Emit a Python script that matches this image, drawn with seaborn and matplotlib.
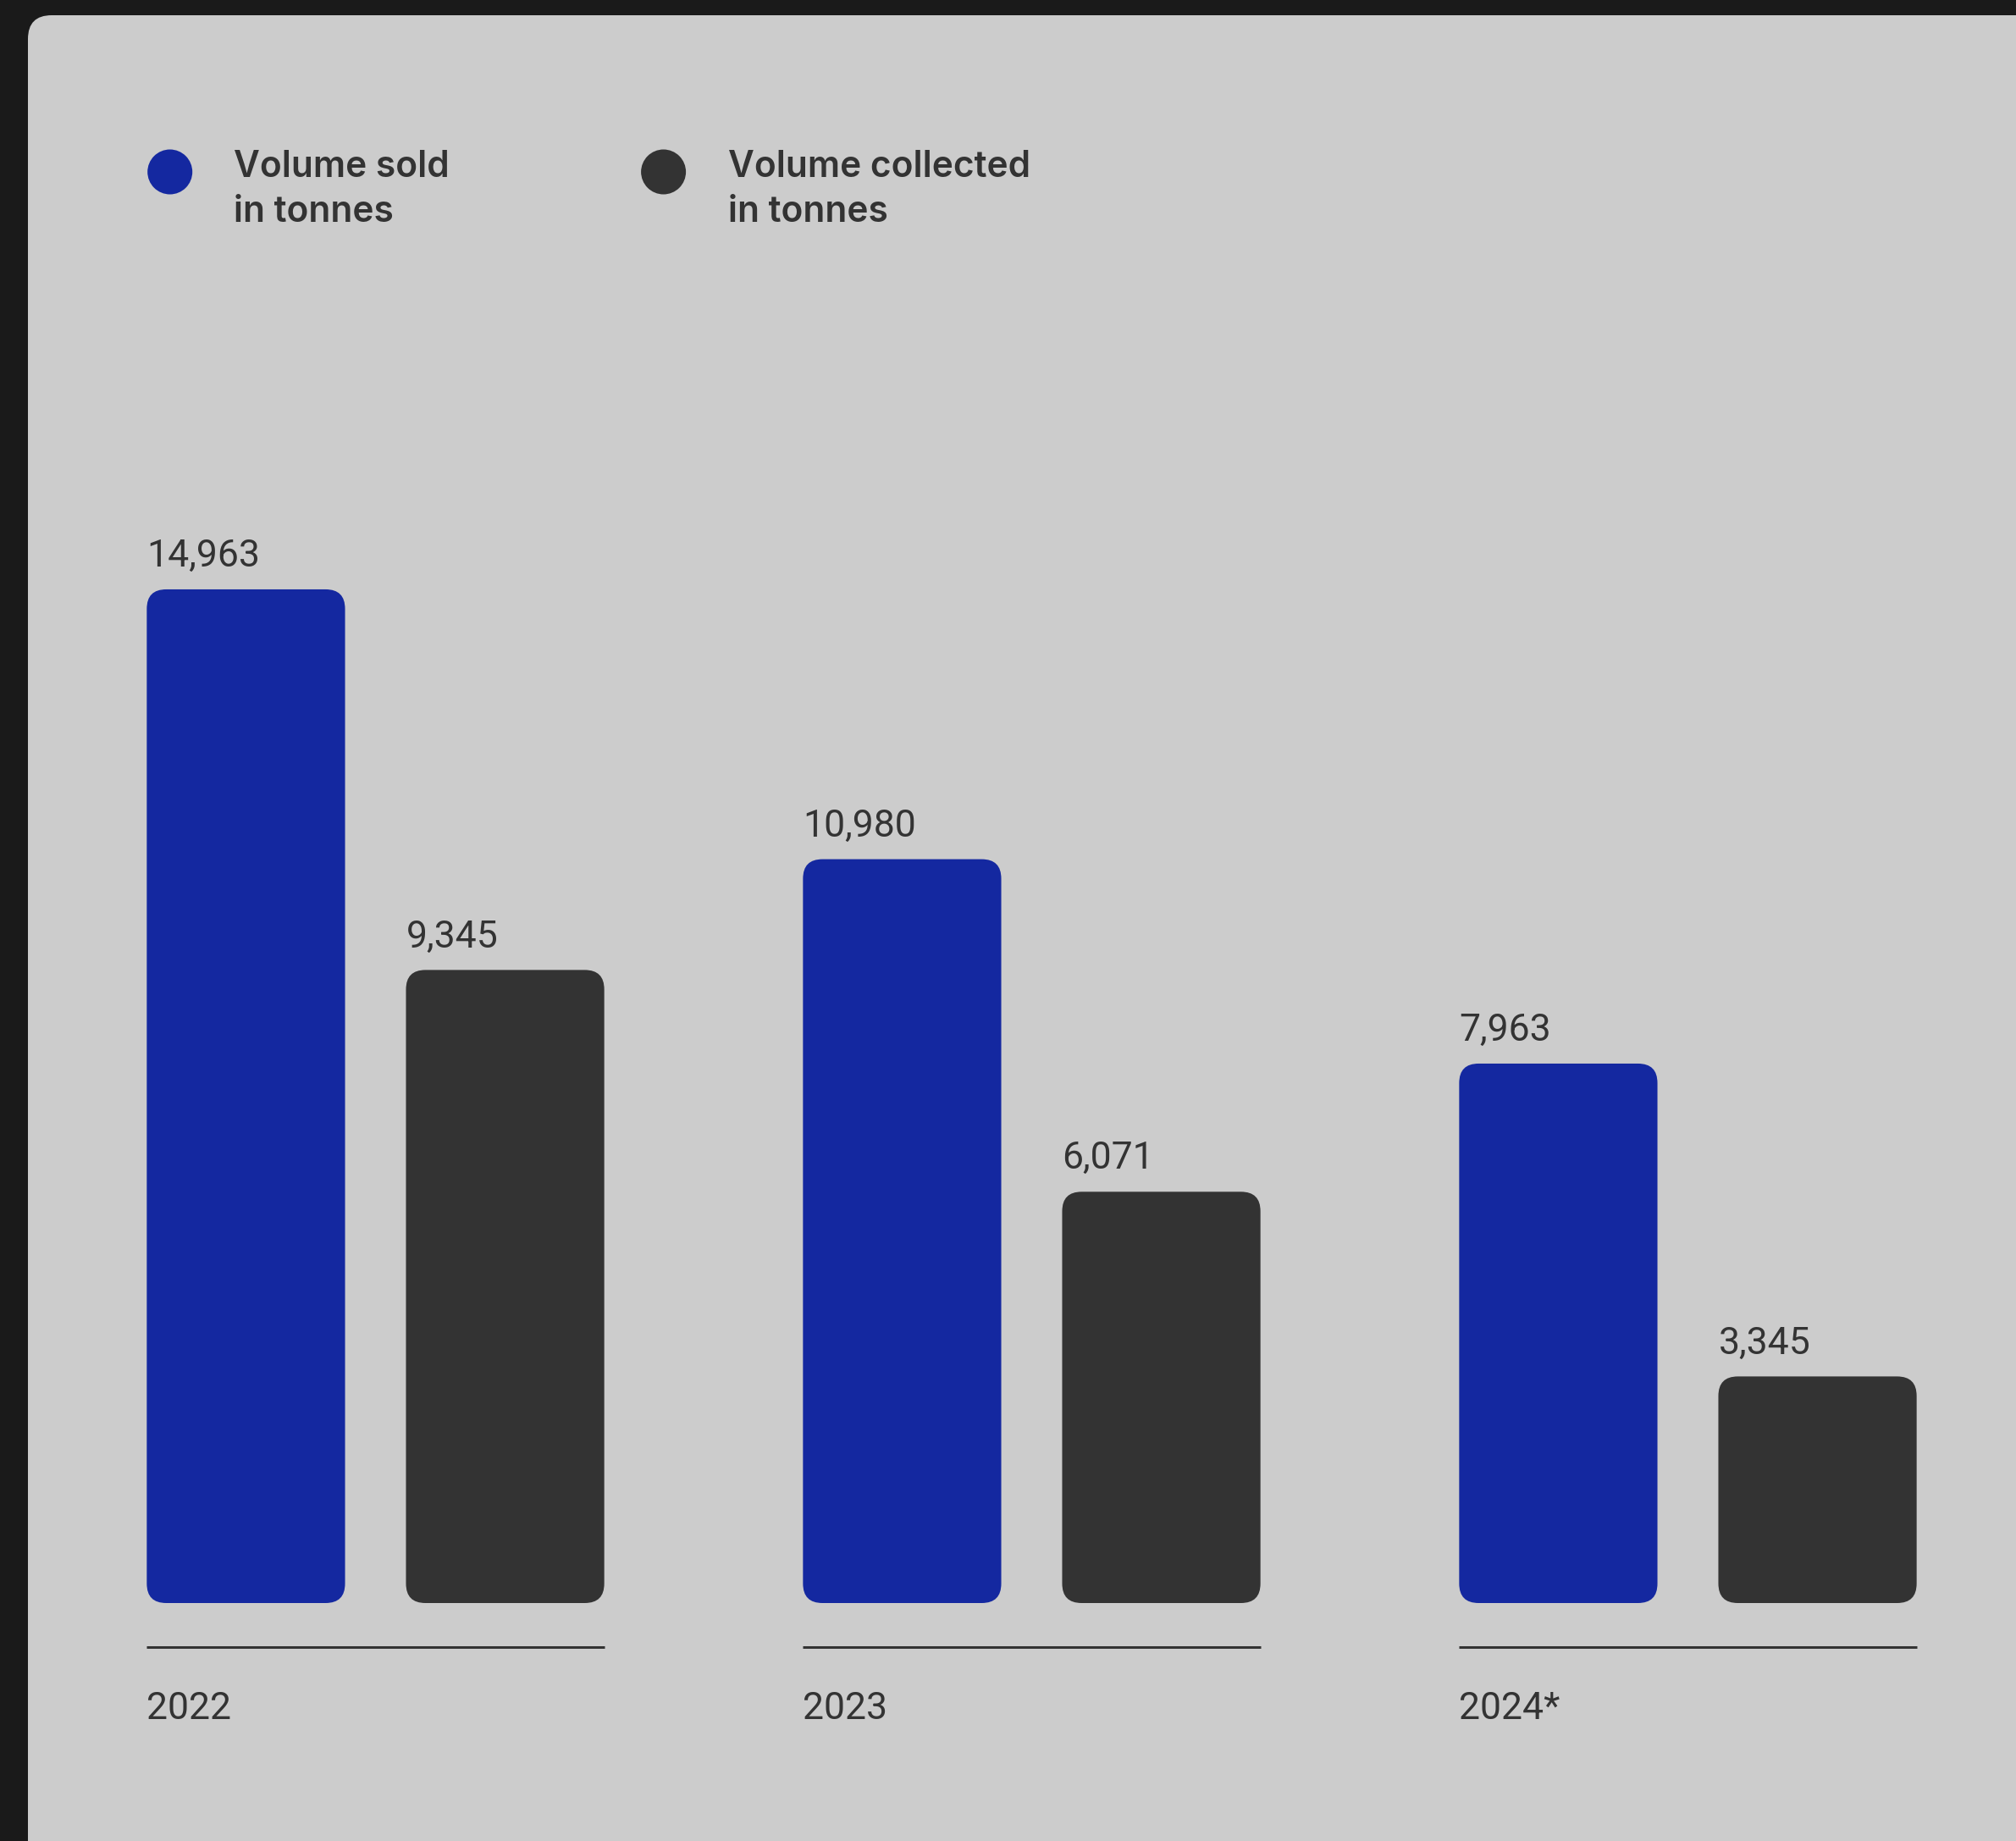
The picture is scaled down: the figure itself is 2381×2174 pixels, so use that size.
import matplotlib
matplotlib.use("Agg")
import matplotlib.pyplot as plt
import matplotlib.transforms as mtransforms
from matplotlib.patches import FancyBboxPatch, Circle
import pandas as pd
import seaborn as sns

# ---- data -------------------------------------------------------------
years = ["2022", "2023", "2024*"]
volume_sold = [14963, 10980, 7963]
volume_collected = [9345, 6071, 3345]
series_labels = ["Volume sold\nin tonnes", "Volume collected\nin tonnes"]
series_colors = ["#1428A0", "#333333"]

df = pd.DataFrame({
    "year": years * 2,
    "series": [series_labels[0]] * len(years) + [series_labels[1]] * len(years),
    "tonnes": volume_sold + volume_collected,
})

# ---- canvas -----------------------------------------------------------
W, H, DPI = 2381, 2174, 100
TEXT = "#333333"
sns.set_theme(style="white")
plt.rcParams["font.family"] = ["Roboto", "DejaVu Sans"]

fig = plt.figure(figsize=(W / DPI, H / DPI), dpi=DPI, facecolor="#1a1a1a")
px = mtransforms.Affine2D().scale(1 / W, 1 / H) + fig.transFigure  # pixel coords, origin bottom-left

# light card with rounded corners
card_top = 18
card = FancyBboxPatch((33, -60), W + 100, H - card_top + 60,
                      boxstyle="round,pad=0,rounding_size=28",
                      transform=px, fc="#cccccc", ec="none", zorder=0)
fig.add_artist(card)

# plotting area: baseline of bars at y=1893 px from top, 0.08 px per tonne
base_px, top_px = 1893, 200
px_per_tonne = 0.08
ax_left, ax_right = 56, W
ax = fig.add_axes([ax_left / W, (H - base_px) / H,
                   (ax_right - ax_left) / W, (base_px - top_px) / H])
ax.set_facecolor("none")
ax_h_px = base_px - top_px
ax_w_px = ax_right - ax_left

sns.barplot(data=df, x="year", y="tonnes", hue="series", palette=series_colors,
            width=0.79, gap=0.235, saturation=1, errorbar=None, legend=False,
            linewidth=0, ax=ax)
ax.set_xlim(-0.5, len(years) - 0.5)
ax.set_ylim(0, ax_h_px / px_per_tonne)
ax.axis("off")

# swap plain rectangles for rounded bars
px_per_x = ax_w_px / len(years)
aspect = px_per_x / px_per_tonne
radius_px = 23
bars = [p for p in ax.patches]
bar_info = []
for p in bars:
    x, y, w, h = p.get_x(), p.get_y(), p.get_width(), p.get_height()
    color = p.get_facecolor()
    p.remove()
    rb = FancyBboxPatch((x, y), w, h,
                        boxstyle=f"round,pad=0,rounding_size={radius_px / px_per_x}",
                        mutation_aspect=aspect, fc=color, ec="none", lw=0)
    ax.add_patch(rb)
    bar_info.append((x, w, h))

# value labels above each bar
for x, w, h in bar_info:
    ax.annotate(f"{int(round(h)):,}", xy=(x, h), xytext=(0, 27 * 72 / DPI),
                textcoords="offset points", ha="left", va="baseline",
                fontsize=32, color=TEXT)

# group rules and year labels under each pair of bars
blend = mtransforms.blended_transform_factory(ax.transData, ax.transAxes)
n = len(years)
for i, yr in enumerate(years):
    left = bar_info[i][0]
    right = bar_info[n + i][0] + bar_info[n + i][1]
    ax.plot([left, right], [-(1945 - base_px) / ax_h_px] * 2, transform=blend,
            clip_on=False, color=TEXT, lw=3 * 72 / DPI, solid_capstyle="butt")
    ax.text(left, -(2030 - base_px) / ax_h_px, yr, transform=blend,
            ha="left", va="baseline", fontsize=32, color=TEXT)

# legend
legend_pos = [(200.7, 276), (783.6, 860)]
for (cx, tx), lab, col in zip(legend_pos, series_labels, series_colors):
    fig.add_artist(Circle((cx, H - 203), 26.5, transform=px, fc=col, ec="none"))
    for j, line in enumerate(lab.split("\n")):
        fig.text(tx, H - (209 + 53 * j), line, transform=px, ha="left",
                 va="baseline", fontsize=30.5, color=TEXT,
                 family=["Inter", "DejaVu Sans"], fontweight="semibold")

fig.savefig("out.png", dpi=DPI, facecolor=fig.get_facecolor())
